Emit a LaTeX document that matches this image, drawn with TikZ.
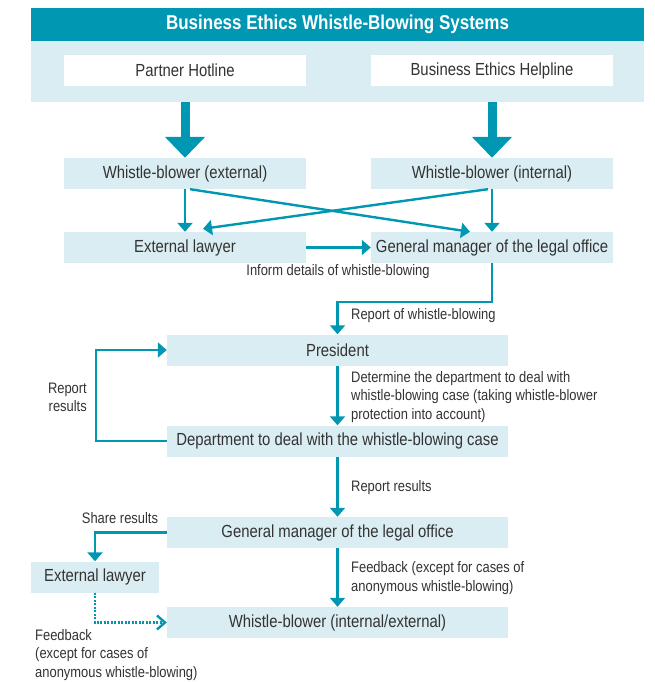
\documentclass[tikz,border=0pt]{standalone}
\usepackage{fontspec}
\setmainfont{Liberation Sans}[FakeStretch=0.85]
\usepackage{tikz}
\usetikzlibrary{arrows.meta}
\definecolor{ethteal}{HTML}{0097B2}
\definecolor{ethlight}{HTML}{DAEDF3}
\definecolor{ethtext}{HTML}{333333}

\begin{document}
\begin{tikzpicture}[x=1pt,y=-1pt,
    box/.style={fill=ethlight, minimum height=31pt, inner sep=0pt, text=ethtext, font=\fontsize{17.5}{20}\selectfont},
    whitebox/.style={box, fill=white},
    flow/.style={draw=ethteal, line width=2.4pt, -{Triangle[width=15pt,length=9pt]}},
    bigflow/.style={draw=ethteal, line width=9pt, -{Triangle[width=39pt,length=21pt]}},
    feedflow/.style={draw=ethteal, line width=2.4pt, dash pattern=on 2pt off 1.5pt, -{Straight Barb[width=14pt,length=8pt]}},
    note/.style={text=ethtext, inner sep=0pt, font=\fontsize{15.2}{18.5}\selectfont}]
    \pgfmathsetmacro{\boxw}{242}
    \pgfmathsetmacro{\widew}{341}
    \useasboundingbox (0,0) rectangle (655,682);

    % channels
    \node[box, minimum width=613pt, minimum height=94pt] (systems) at (337.5,55) {};
    \node[box, fill=ethteal, text=white, minimum width=613pt, minimum height=33pt,
          font=\bfseries\fontsize{20}{22}\selectfont] (title) at (337.5,24.5) {Business Ethics Whistle-Blowing Systems};
    \node[whitebox, minimum width=\boxw pt] (hotline) at (185,70.5) {Partner Hotline};
    \node[whitebox, minimum width=\boxw pt] (helpline) at (492,70.5) {Business Ethics Helpline};

    \node[box, minimum width=\boxw pt] (wbext) at (185,173.5) {Whistle-blower (external)};
    \node[box, minimum width=\boxw pt] (wbint) at (492,173.5) {Whistle-blower (internal)};
    \node[box, minimum width=\boxw pt] (lawyer) at (185,247.5) {External lawyer};
    \node[box, minimum width=\boxw pt] (gm) at (492,247.5) {General manager of the legal office};

    \node[box, minimum width=\widew pt] (president) at (337.5,350) {President};
    \node[box, minimum width=\widew pt] (dept) at (337.5,441) {Department to deal with the whistle-blowing case};
    \node[box, minimum width=\widew pt] (gmtwo) at (337.5,532.5) {General manager of the legal office};
    \node[box, minimum width=128pt] (lawyertwo) at (95,577) {External lawyer};
    \node[box, minimum width=\widew pt] (wbfinal) at (337.5,622.5) {Whistle-blower (internal/external)};

    \draw[bigflow] (systems.south -| wbext.north) -- (wbext.north);
    \draw[bigflow] (systems.south -| wbint.north) -- (wbint.north);

    \draw[flow] (wbext.south) -- (lawyer.north);
    \draw[flow] (wbint.south) -- (gm.north);
    \draw[flow] ([xshift=5pt]wbext.south) -- ([xshift=-22pt]gm.north);
    \draw[flow] ([xshift=-4pt]wbint.south) -- ([xshift=18pt,yshift=3pt]lawyer.north);
    \draw[flow] (lawyer.east) -- (gm.west);
    \draw[flow] (gm.south) -- ++(0,39) -| (president.north);
    \draw[flow] (president.south) -- (dept.north);
    \draw[flow] (dept.west) -- ++(-71,0) |- (president.west);
    \draw[flow] (dept.south) -- (gmtwo.north);
    \draw[flow] (gmtwo.south) -- (wbfinal.north);
    \draw[flow] (gmtwo.west) -| (lawyertwo.north);
    \draw[feedflow] (lawyertwo.south) |- (wbfinal.west);

    \node[note] (inform) at (338,272) {Inform details of whistle-blowing};
    \node[note, anchor=west] (reportof) at (351,316) {Report of whistle-blowing};
    \node[note, anchor=west, align=left] (determine) at (351,397)
        {Determine the department to deal with\\whistle-blowing case (taking whistle-blower\\protection into account)};
    \node[note, anchor=east, align=right] (loopresults) at (87,397.5) {Report\\results};
    \node[note, anchor=west] (reportres) at (351,488) {Report results};
    \node[note] (share) at (120,518) {Share results};
    \node[note, anchor=west, align=left] (feedright) at (351,578)
        {Feedback (except for cases of\\anonymous whistle-blowing)};
    \node[note, anchor=west, align=left] (feedleft) at (35,655)
        {Feedback\\(except for cases of\\anonymous whistle-blowing)};
\end{tikzpicture}
\end{document}
